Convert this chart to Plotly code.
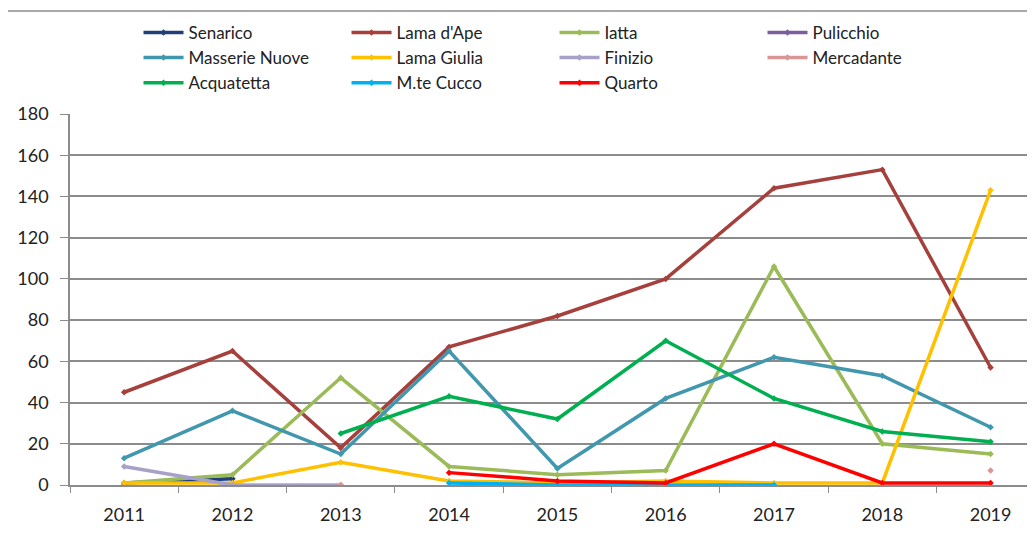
import plotly.graph_objects as go

years = ["2011", "2012", "2013", "2014", "2015", "2016", "2017", "2018", "2019"]

senarico = [1, 3, None, None, None, None, None, None, None]
lama_dape = [45, 65, 18, 67, 82, 100, 144, 153, 57]
iatta = [1, 5, 52, 9, 5, 7, 106, 20, 15]
pulicchio = [0, None, None, None, None, None, None, None, None]
masserie_nuove = [13, 36, 15, 65, 8, 42, 62, 53, 28]
lama_giulia = [1, 1, 11, 2, 1, 2, 1, 1, 143]
finizio = [9, 0, 0, None, None, None, None, None, None]
mercadante = [None, None, 0, None, None, None, None, None, 7]
acquatetta = [None, None, 25, 43, 32, 70, 42, 26, 21]
mte_cucco = [None, None, None, 1, 0, 0, 0, None, None]
quarto = [None, None, None, 6, 2, 1, 20, 1, 1]

series = [
    ("Senarico", senarico, "#203F78"),
    ("Lama d'Ape", lama_dape, "#A5403C"),
    ("Iatta", iatta, "#9BBB59"),
    ("Pulicchio", pulicchio, "#7B5EA0"),
    ("Masserie Nuove", masserie_nuove, "#4197AE"),
    ("Lama Giulia", lama_giulia, "#FFC000"),
    ("Finizio", finizio, "#A6A1C9"),
    ("Mercadante", mercadante, "#D99694"),
    ("Acquatetta", acquatetta, "#00B050"),
    ("M.te Cucco", mte_cucco, "#00B0F0"),
    ("Quarto", quarto, "#FF0000"),
]

FONT = "Lato, 'Liberation Sans', Arial, sans-serif"

fig = go.Figure()
for name, vals, color in series:
    fig.add_trace(
        go.Scatter(
            x=years,
            y=vals,
            name=name,
            mode="lines+markers",
            line=dict(color=color, width=3.5),
            marker=dict(color=color, size=5, symbol="diamond"),
            connectgaps=False,
        )
    )

# page body adds an 8px offset, so the figure is 8px smaller on each side
# plot area in the window: x 70..1035 px, y 114..485 px
fig.update_layout(
    width=1027,
    height=527,
    margin=dict(l=62, r=0, t=106, b=50),
    plot_bgcolor="white",
    paper_bgcolor="white",
    font=dict(family=FONT, size=17, color="#222"),
    showlegend=True,
    legend=dict(
        orientation="h",
        x=0.071,
        xanchor="left",
        y=1.267,
        yanchor="top",
        entrywidth=153,
        itemwidth=40,
        tracegroupgap=0,
        font=dict(size=17, color="#222"),
        bgcolor="rgba(0,0,0,0)",
    ),
    xaxis=dict(
        type="category",
        range=[-0.5, 8.41],
        showgrid=False,
        showline=True,
        linecolor="#8c8c8c",
        linewidth=1.5,
        ticks="outside",
        tickson="boundaries",
        ticklen=6,
        tickcolor="#8c8c8c",
        tickfont=dict(size=18),
        ticklabelstandoff=13,
        zeroline=False,
    ),
    yaxis=dict(
        range=[0, 180],
        dtick=20,
        showgrid=True,
        gridcolor="#8c8c8c",
        gridwidth=1.5,
        showline=True,
        linecolor="#8c8c8c",
        linewidth=1.5,
        ticks="outside",
        ticklen=8,
        tickcolor="#8c8c8c",
        tickfont=dict(size=18),
        ticklabelstandoff=8,
        zeroline=False,
    ),
    shapes=[
        dict(
            type="rect",
            xref="paper",
            yref="paper",
            x0=(7 - 70) / 965,
            x1=1.2,
            y0=-0.5,
            y1=(485 - 11) / 371,
            line=dict(color="#8c8c8c", width=1.5),
            layer="below",
        )
    ],
)

fig.write_html("out.html")
